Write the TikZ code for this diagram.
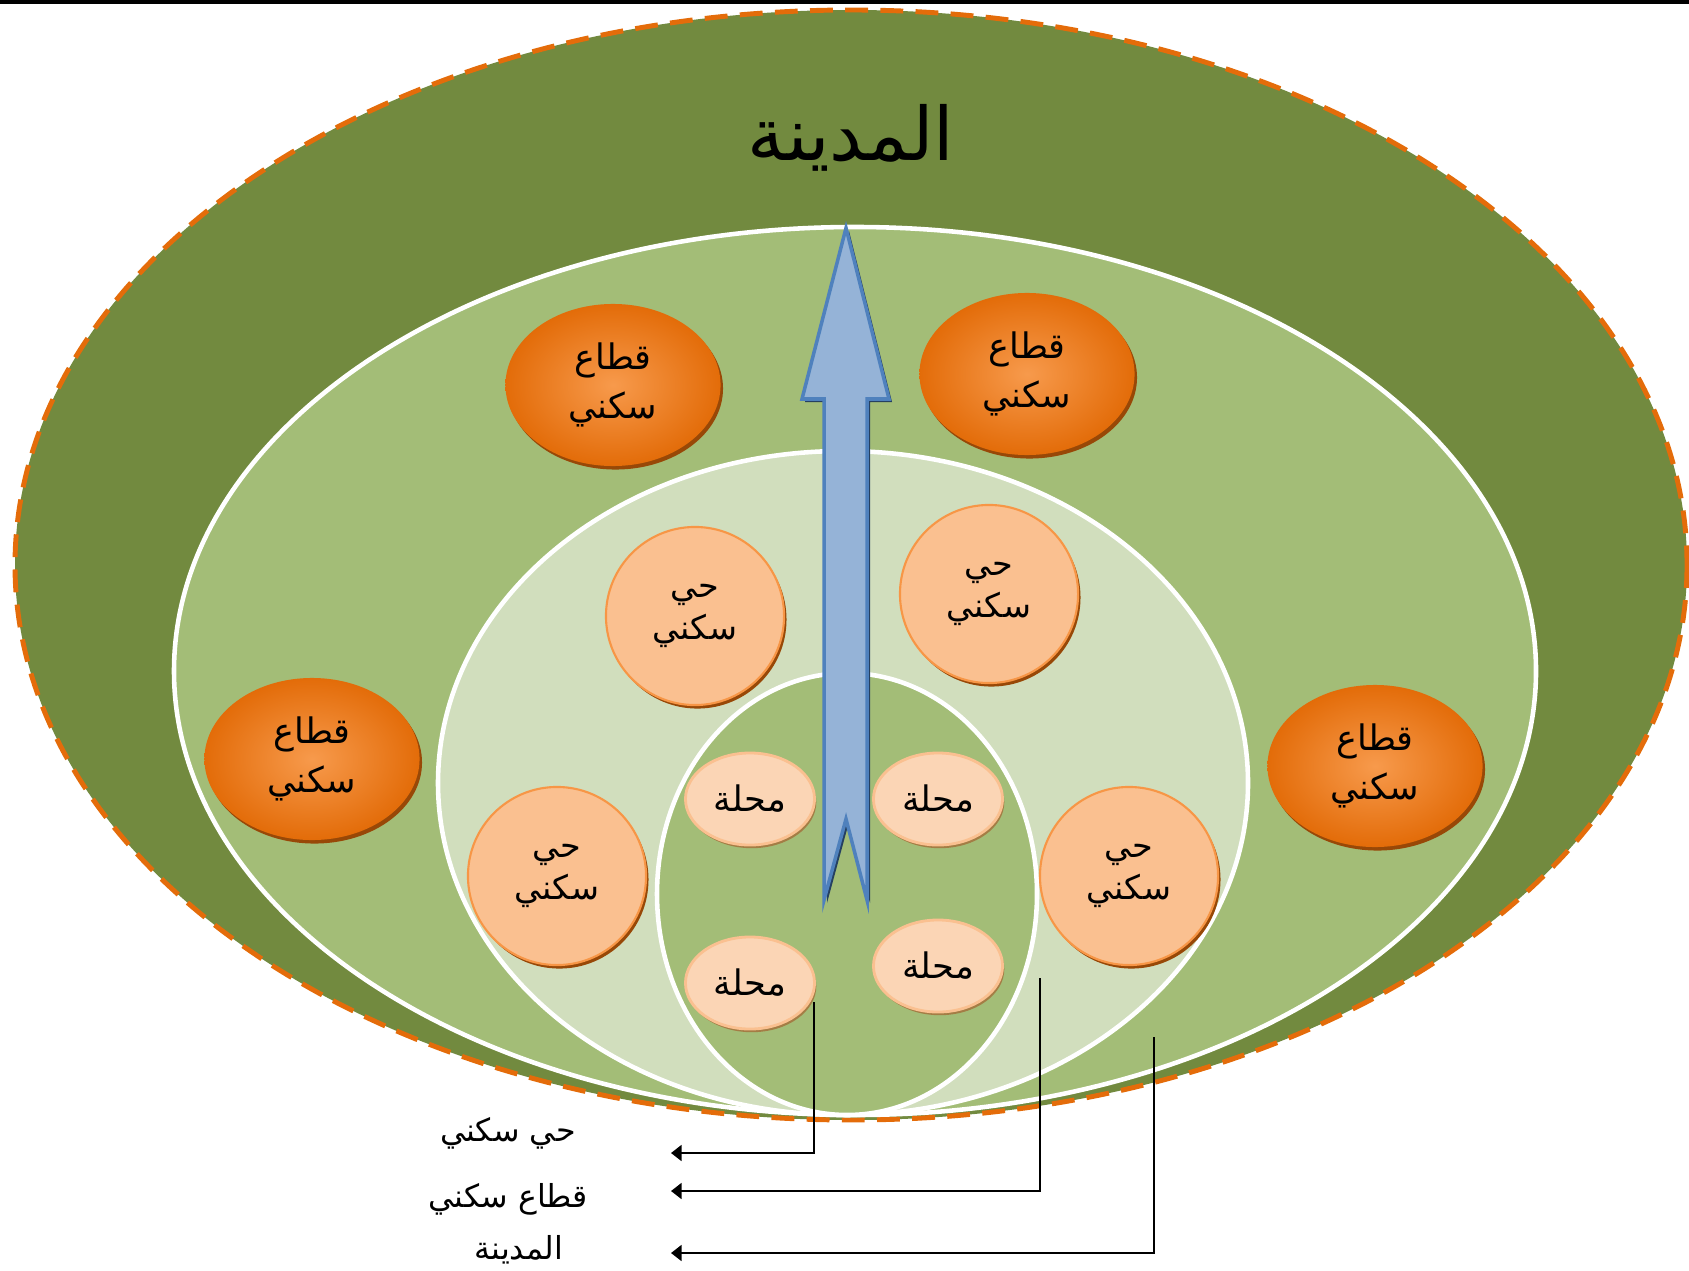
\documentclass[tikz,border=0pt]{standalone}
\usepackage{fontspec}
\usetikzlibrary{shapes.geometric,shadows,arrows.meta}
\newfontfamily\arabicfont[Script=Arabic]{DejaVu Sans}
\TeXXeTstate=1

\definecolor{cityDark}{HTML}{728A3F}
\definecolor{ringGreen}{HTML}{A3BD77}
\definecolor{ringPale}{HTML}{D1DEBD}
\definecolor{dashOrange}{HTML}{E46C0A}
\definecolor{sectorIn}{HTML}{F79A4C}
\definecolor{sectorOut}{HTML}{E36C09}
\definecolor{sectorRim}{HTML}{984807}
\definecolor{quarterFill}{HTML}{FAC090}
\definecolor{quarterLine}{HTML}{F79646}
\definecolor{blockFill}{HTML}{FBD5B5}
\definecolor{blockRim}{HTML}{A47D45}
\definecolor{arrowFill}{HTML}{95B3D7}
\definecolor{arrowLine}{HTML}{4F81BD}
\definecolor{arrowDark}{HTML}{254061}

\tikzset{
  ring/.style={draw=white, line width=1.3pt},
  sector/.style={ellipse, minimum width=2.15cm, minimum height=1.62cm, inner sep=0pt,
    inner color=sectorIn, outer color=sectorOut,
    general shadow={fill=sectorRim, shadow xshift=0.7pt, shadow yshift=-1pt},
    font=\arabicfont\fontsize{10}{14}\selectfont, align=center},
  quarter/.style={circle, minimum size=1.78cm, inner sep=0pt,
    fill=quarterFill, draw=quarterLine, line width=0.6pt,
    general shadow={fill=sectorRim, shadow xshift=0.7pt, shadow yshift=-1pt},
    font=\arabicfont\fontsize{9.5}{12}\selectfont, align=center},
  block/.style={ellipse, minimum width=1.29cm, minimum height=0.92cm, inner sep=0pt,
    fill=blockFill, draw=quarterFill, line width=0.8pt,
    general shadow={fill=blockRim, shadow xshift=0.5pt, shadow yshift=-0.9pt},
    font=\arabicfont\fontsize{10}{13}\selectfont},
  caption/.style={font=\arabicfont\fontsize{9}{12}\selectfont},
  pointer/.style={-{Triangle[length=3pt,width=4.5pt]}, line width=0.6pt},
}

\begin{document}
\begin{tikzpicture}[x=0.01cm, y=-0.01cm]
\useasboundingbox (0,0) rectangle (1689,1270);

% rule at the top of the page
\fill[black] (0,0) rectangle (1689,4.5);

% nested rings
\fill[cityDark] (851,565) ellipse [x radius=836, y radius=555];
\draw[dashOrange, line width=1.4pt, dash pattern=on 6.5pt off 3.5pt] (851,565) ellipse [x radius=836, y radius=555];
\filldraw[ring, fill=ringGreen] (855,671) ellipse [x radius=681, y radius=444];
\filldraw[ring, fill=ringPale] (843,783) ellipse [x radius=405, y radius=332];
\filldraw[ring, fill=ringGreen] (847,894) ellipse [x radius=190, y radius=221];

\node[font=\arabicfont\fontsize{21}{26}\selectfont] (city) at (851,138) {\beginR المدينة\endR};

% growth arrow
\fill[arrowDark] (849,231) -- (892,402) -- (870,402) -- (870,903) -- (849,822) -- (827,903) -- (827,402) -- (805,402) -- cycle;
\filldraw[fill=arrowFill, draw=arrowLine, line width=1pt, line join=miter]
  (846,228) -- (889,399) -- (867,399) -- (867,900) -- (846,819) -- (824,900) -- (824,399) -- (802,399) -- cycle;

% residential sectors
\node[sector] (sec1) at (613,385) {\beginR قطاع\endR\\\beginR سكني\endR};
\node[sector] (sec2) at (1027,374) {\beginR قطاع\endR\\\beginR سكني\endR};
\node[sector] (sec3) at (312,759) {\beginR قطاع\endR\\\beginR سكني\endR};
\node[sector] (sec4) at (1375,766) {\beginR قطاع\endR\\\beginR سكني\endR};

% residential quarters
\node[quarter] (qtr1) at (695,616) {\beginR حي\endR\\\beginR سكني\endR};
\node[quarter] (qtr2) at (989,594) {\beginR حي\endR\\\beginR سكني\endR};
\node[quarter] (qtr3) at (557,876) {\beginR حي\endR\\\beginR سكني\endR};
\node[quarter] (qtr4) at (1129,876) {\beginR حي\endR\\\beginR سكني\endR};

% blocks
\node[block] (blk1) at (750,799) {\beginR محلة\endR};
\node[block] (blk2) at (938,799) {\beginR محلة\endR};
\node[block] (blk3) at (750,983) {\beginR محلة\endR};
\node[block] (blk4) at (938,966) {\beginR محلة\endR};

% key below
\node[caption] (keyQuarter) at (508,1133) {\beginR حي سكني\endR};
\node[caption] (keySector) at (508,1199) {\beginR قطاع سكني\endR};
\node[caption] (keyCity) at (519,1250) {\beginR المدينة\endR};

\coordinate (fromBlocks) at (814,1002);
\coordinate (fromQuarters) at (1040,978);
\coordinate (fromSectors) at (1154,1037);
\coordinate (toQuarter) at (671,1153);
\coordinate (toSector) at (671,1191);
\coordinate (toCity) at (671,1253);

\draw[pointer] (fromBlocks) |- (toQuarter);
\draw[pointer] (fromQuarters) |- (toSector);
\draw[pointer] (fromSectors) |- (toCity);

\end{tikzpicture}
\end{document}
